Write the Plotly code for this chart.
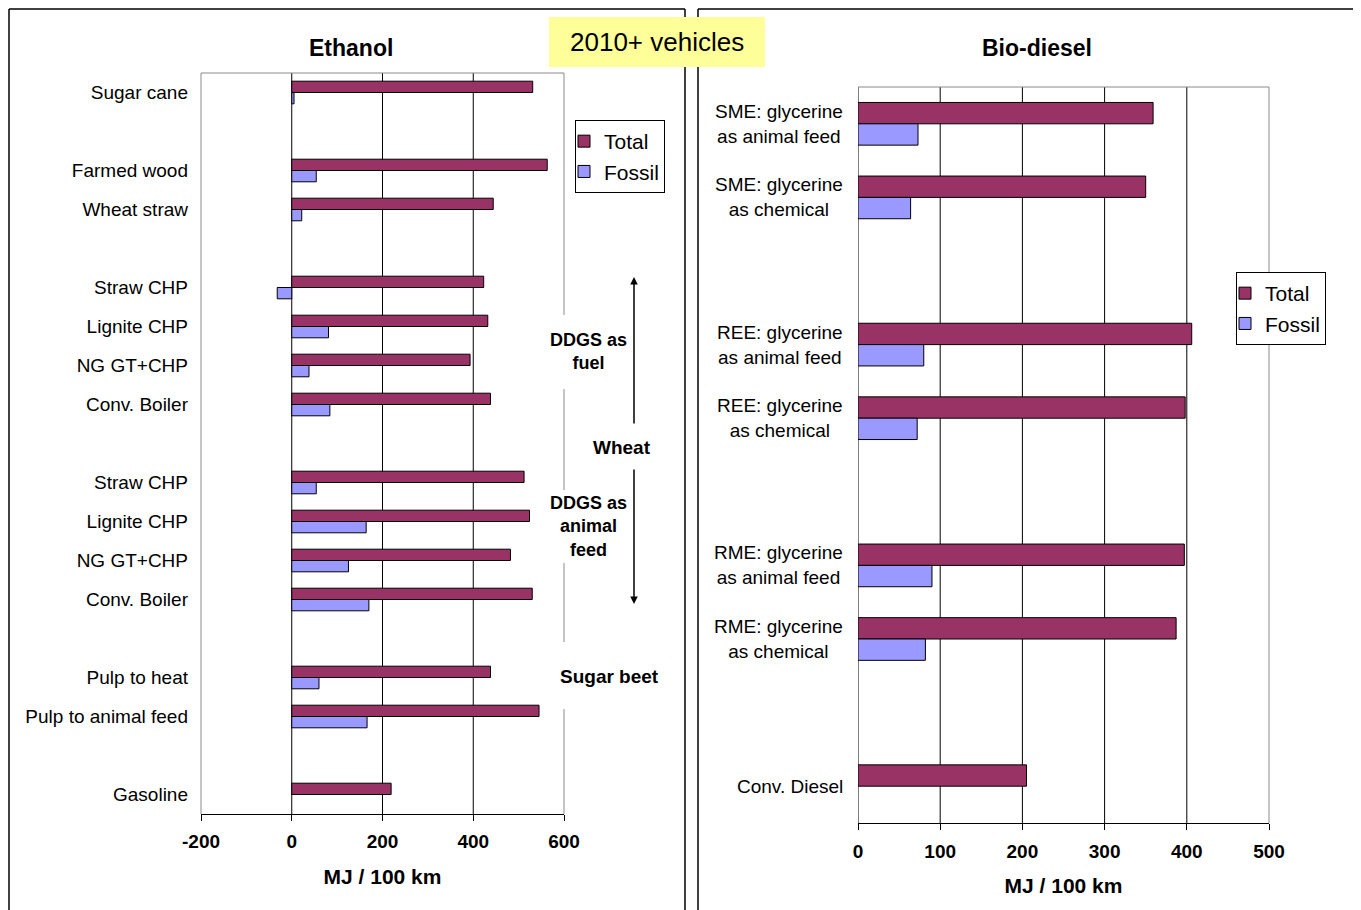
import plotly.graph_objects as go

# ---------------- data ----------------
eth_labels = ["Sugar cane", "", "Farmed wood", "Wheat straw", "", "Straw CHP",
              "Lignite CHP", "NG GT+CHP", "Conv. Boiler", "", "Straw CHP",
              "Lignite CHP", "NG GT+CHP", "Conv. Boiler", "", "Pulp to heat",
              "Pulp to animal feed", "", "Gasoline"]
eth_total = [531, None, 563, 444, None, 423, 432, 393, 438, None,
             512, 524, 482, 530, None, 438, 545, None, 219]
eth_fossil = [5, None, 54, 22, None, -32, 81, 38, 84, None,
              54, 164, 125, 170, None, 60, 166, None, None]

bio_labels = ["SME: glycerine<br>as animal feed", "SME: glycerine<br>as chemical", "",
              "REE: glycerine<br>as animal feed", "REE: glycerine<br>as chemical", "",
              "RME: glycerine<br>as animal feed", "RME: glycerine<br>as chemical", "",
              "Conv. Diesel"]
bio_total = [359, 350, None, 406, 398, None, 397, 387, None, 205]
bio_fossil = [73, 64, None, 80, 72, None, 90, 82, None, None]

eth_ticks = [-200, 0, 200, 400, 600]
bio_ticks = [0, 100, 200, 300, 400, 500]
series_names = ["Total", "Fossil"]
series_colors = ["#993366", "#9999FF"]

# ---------------- layout helpers ----------------
OFF = 8                      # page body margin
W, H = 1361 - OFF, 910 - OFF
FONT = "Arial, 'Liberation Sans', sans-serif"


def fx(px):
    return (px - OFF) / W


def fy(py):
    return 1 - (py - OFF) / H


eth_pos = list(range(len(eth_labels)))
bio_pos = list(range(len(bio_labels)))

fig = go.Figure()
for name, vals, col in zip(series_names, [eth_total, eth_fossil], series_colors):
    fig.add_trace(go.Bar(orientation="h", x=vals, y=eth_pos, name=name,
                         marker=dict(color=col, line=dict(color="#000000", width=1)),
                         xaxis="x", yaxis="y", legend="legend"))
for name, vals, col in zip(series_names, [bio_total, bio_fossil], series_colors):
    fig.add_trace(go.Bar(orientation="h", x=vals, y=bio_pos, name=name,
                         marker=dict(color=col, line=dict(color="#000000", width=1)),
                         xaxis="x2", yaxis="y2", legend="legend2"))

axis_common = dict(showgrid=False, zeroline=False, automargin=False)

fig.update_layout(
    width=W, height=H,
    margin=dict(l=0, r=0, t=0, b=0),
    paper_bgcolor="white", plot_bgcolor="white",
    font=dict(family=FONT, color="black"),
    barmode="group", bargap=0.42, bargroupgap=0,
    xaxis=dict(domain=[fx(201), fx(564)], range=[-200, 600], tickvals=eth_ticks,
               ticktext=[str(v) for v in eth_ticks],
               ticks="outside", ticklen=6, tickcolor="black", showline=True,
               linecolor="black", linewidth=1, anchor="y",
               tickfont=dict(size=19, weight="bold"), ticklabelstandoff=4,
               title=dict(text="MJ / 100 km", font=dict(size=21, weight="bold"), standoff=18),
               **axis_common),
    yaxis=dict(domain=[fy(814), fy(73)], range=[len(eth_labels) - 0.5, -0.5],
               tickvals=eth_pos, ticktext=eth_labels, ticks="", showline=False,
               tickfont=dict(size=19), ticklabelstandoff=12, anchor="x",
               **axis_common),
    xaxis2=dict(domain=[fx(858), fx(1269)], range=[0, 500], tickvals=bio_ticks,
                ticktext=[str(v) for v in bio_ticks],
                ticks="outside", ticklen=6, tickcolor="black", showline=True,
                linecolor="black", linewidth=1, anchor="y2",
                tickfont=dict(size=19, weight="bold"), ticklabelstandoff=5,
                title=dict(text="MJ / 100 km", font=dict(size=21, weight="bold"), standoff=17),
                **axis_common),
    yaxis2=dict(domain=[fy(823), fy(87)], range=[len(bio_labels) - 0.5, -0.5],
                showticklabels=False, ticks="", showline=False, anchor="x2",
                **axis_common),
    legend=dict(x=fx(575), y=fy(120), xanchor="left", yanchor="top",
                bgcolor="white", bordercolor="black", borderwidth=1,
                font=dict(size=21), traceorder="normal", indentation=-12),
    legend2=dict(x=fx(1236), y=fy(272), xanchor="left", yanchor="top",
                 bgcolor="white", bordercolor="black", borderwidth=1,
                 font=dict(size=21), traceorder="normal", indentation=-12),
)

shapes = []
def pline(x0, y0, x1, y1, color="black", width=1.5):
    shapes.append(dict(type="line", xref="paper", yref="paper",
                       x0=fx(x0), y0=fy(y0), x1=fx(x1), y1=fy(y1),
                       line=dict(color=color, width=width)))

# panel borders
pline(9, 9, 685, 9)
pline(9, 9, 9, 915)
pline(685, 9, 685, 915)
pline(698, 9, 1365, 9)
pline(698, 9, 698, 915)

# yellow label box
shapes.append(dict(type="rect", xref="paper", yref="paper",
                   x0=fx(549), x1=fx(765), y0=fy(17), y1=fy(67),
                   fillcolor="#FFFF99", line=dict(width=0)))

GRAY = "#8a8a8a"
# left plot area borders
pline(201, 73, 564, 73, GRAY, 1)
pline(201, 73, 201, 814, GRAY, 1)
for a, b in [(73, 315), (389, 490), (563, 642), (709, 814)]:
    pline(564, a, 564, b, GRAY, 1)
# right plot area borders
pline(858, 87, 1269, 87, GRAY, 1)
pline(1269, 87, 1269, 823, GRAY, 1)

# gridlines through the axes' own scales
for v in eth_ticks[1:-1]:
    shapes.append(dict(type="line", xref="x", yref="y domain", x0=v, x1=v, y0=0, y1=1,
                       line=dict(color="black", width=1), layer="below"))
for v in bio_ticks[:-1]:
    shapes.append(dict(type="line", xref="x2", yref="y2 domain", x0=v, x1=v, y0=0, y1=1,
                       line=dict(color="black", width=1), layer="below"))
fig.update_layout(shapes=shapes)

ann = []
def ptext(text, x, y, size, bold=True, **kw):
    ann.append(dict(text=text, x=fx(x), y=fy(y), xref="paper", yref="paper",
                    showarrow=False, xanchor=kw.pop("xanchor", "center"),
                    yanchor="middle",
                    font=dict(size=size, weight="bold" if bold else "normal", color="black"),
                    **kw))

ptext("Ethanol", 351, 48, 23)
ptext("Bio-diesel", 1037, 48, 23)
ptext("2010+ vehicles", 657, 42, 26, bold=False)
ptext("DDGS as<br>fuel", 588, 351, 18)
ptext("Wheat", 622, 447, 19)
ptext("DDGS as<br>animal<br>feed", 588, 526, 18)
ptext("Sugar beet", 609, 676, 19)

# arrows
ann.append(dict(text="", x=fx(634), y=fy(277), xref="paper", yref="paper",
                ax=0, ay=425 - 277, showarrow=True, arrowhead=2, arrowsize=1,
                arrowwidth=1.5, arrowcolor="black", standoff=0))
ann.append(dict(text="", x=fx(634), y=fy(604), xref="paper", yref="paper",
                ax=0, ay=468 - 604, showarrow=True, arrowhead=2, arrowsize=1,
                arrowwidth=1.5, arrowcolor="black", standoff=0))

# bio-diesel category labels (centered multi-line)
for p, lab in zip(bio_pos, bio_labels):
    if lab:
        ann.append(dict(text=lab, x=fx(845), y=p, xref="paper", yref="y2",
                        showarrow=False, xanchor="right", yanchor="middle",
                        align="center", font=dict(size=19, color="black")))

fig.update_layout(annotations=ann)

fig.write_html("out.html")
